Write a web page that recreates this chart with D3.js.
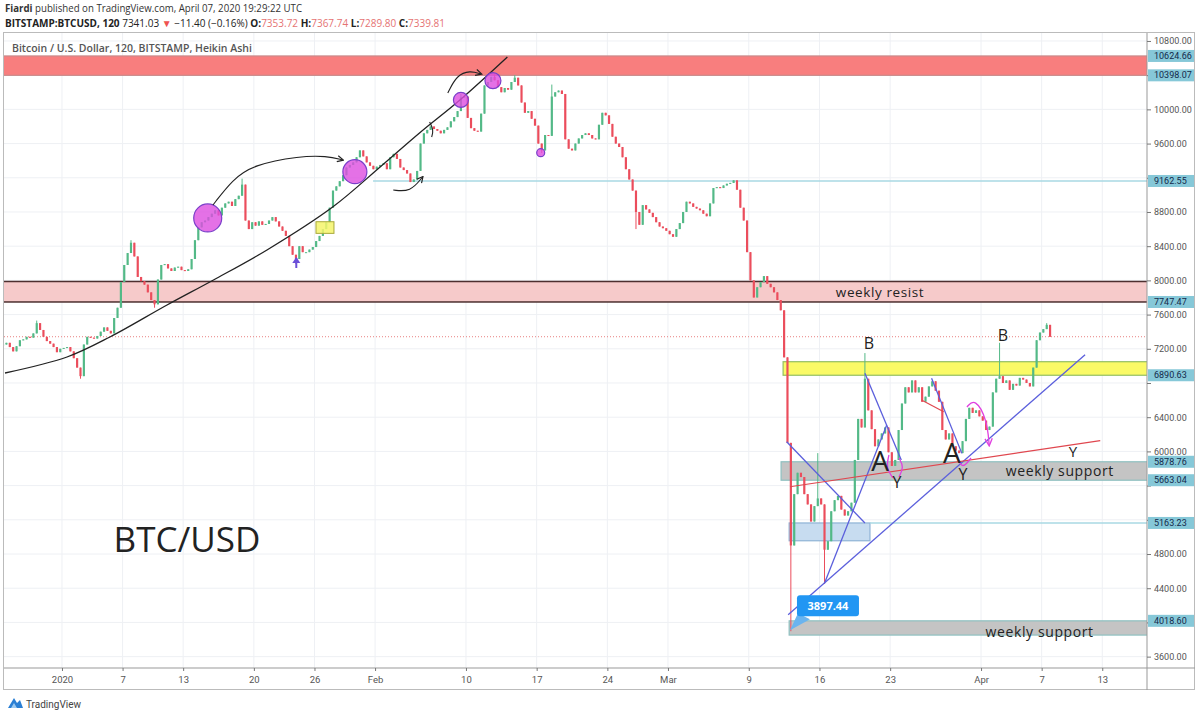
<!DOCTYPE html>
<html lang="en">
<head>
  <meta charset="UTF-8">
  <title>BTC/USD</title>
  <script src="https://cdn.jsdelivr.net/npm/d3@7"></script>
  <style>
    body { margin: 0; background: #fff; }
    svg { display: block; font-family: "Open Sans", Roboto, sans-serif; }
  </style>
</head>
<body>
<div id="chart"></div>
<script>
  // 8h closes, three per day, from 2019-12-26 00:00 UTC
  const closes = [
    7250, 7270, 7220,  7170, 7230, 7300,  7310, 7340, 7330,  7380, 7500, 7420,  // Dec 26-29
    7340, 7290, 7260,  7220, 7160, 7200,                                        // Dec 30-31
    7210, 7220, 7170,  7090, 6980, 6880,  7250, 7340, 7330,  7320, 7350, 7400,  // Jan 1-4
    7450, 7410, 7380,  7560, 7680, 7980,  8180, 8320, 8440,  8280, 8040, 7990,  // Jan 5-8
    7950, 7860, 7770,  7720, 8010, 8180,  8190, 8140, 8110,  8150, 8160, 8120,  // Jan 9-12
    8110, 8130, 8250,  8470, 8620, 8680,  8700, 8740, 8780,  8820, 8760, 8850,  // Jan 13-16
    8900, 8920, 8870,  8950, 8990, 9120,  8700, 8600, 8680,  8640, 8690, 8650,  // Jan 17-20
    8660, 8700, 8740,  8690, 8630, 8580,  8520, 8400, 8300,  8250, 8400, 8330,  // Jan 21-24
    8330, 8360, 8390,  8460, 8520, 8600,  8680, 8850, 9050,  9100, 9160, 9230,  // Jan 25-28
    9320, 9350, 9380,  9440, 9520, 9450,  9380, 9340, 9300,                     // Jan 29-31
    9330, 9350, 9370,  9300, 9440, 9480,  9420, 9320, 9290,  9250, 9150, 9180,  // Feb 1-4
    9280, 9600, 9720,  9760, 9800, 9770,  9750, 9720, 9760,  9790, 9860, 9910,  // Feb 5-8
    9980, 10140, 10150, 9900, 9780, 9750, 9740, 9950, 10280, 10320, 10380, 10340, // Feb 9-12
    10260, 10200, 10250, 10230, 10320, 10370, 10280, 10080, 9960, 9980, 9890, 9810, // Feb 13-16
    9600, 9520, 9700,  9690, 10150, 10200, 10220, 10180, 9650, 9540, 9520, 9600, // Feb 17-20
    9660, 9700, 9720,  9700, 9660, 9650,  9820, 9960, 9930,  9830, 9680, 9600,  // Feb 21-24
    9560, 9440, 9300,  9180, 9050, 8800,  8650, 8880, 8830,  8790, 8740, 8680,  // Feb 25-28
    8630, 8610, 8580,                                                            // Feb 29
    8540, 8510, 8600,  8670, 8800, 8920,  8900, 8860, 8840,  8820, 8780, 8750,  // Mar 1-4
    8900, 9080, 9090,  9080, 9110, 9130,  9140, 9170, 9060,  8850, 8700, 8330,  // Mar 5-8
    8000, 7800, 7920,  7980, 8050, 7960,  7920, 7860, 7770,  7650, 7100, 6100,  // Mar 9-12
    4900, 5500, 5750,  5700, 5500, 5380,  5180, 5360, 5450,  5380, 4850, 4950,  // Mar 13-16
    5300, 5430, 5480,  5320, 5250, 5300,  5400, 5900, 6380,  6280, 6850, 6480,  // Mar 17-20
    6260, 6060, 6140,  6210, 6280, 5990,  5830, 5900, 6250,  6560, 6750, 6690,  // Mar 21-24
    6830, 6690, 6750,  6580, 6640, 6760,  6820, 6710, 6580,  6250, 6140, 6210,  // Mar 25-28
    6060, 6010, 5980,  6120, 6380, 6510,  6450, 6480, 6410,                     // Mar 29-31
    6360, 6250, 6290,  6690, 6850, 6880,  6800, 6830, 6720,  6790, 6770, 6860,  // Apr 1-4
    6840, 6800, 6760,  6980, 7300, 7390,  7430, 7480, 7340                      // Apr 5-7
  ];
  // wick extremes: [day from Jan 1, price]
  const wicks = [
    [-2.5, 7530], [1.8, 6850], [6.8, 8470], [9.0, 7680], [17.9, 9190], [23.3, 8190],
    [39.5, 10180], [42.7, 10410], [44.7, 10400], [47.4, 9490], [48.6, 10290],
    [56.9, 8600], [72.2, 3897.44], [74.9, 5980], [75.6, 4450], [79.5, 7150],
    [92.8, 7270], [97.5, 7500]
  ];

  const priceTicks = [3600, 4000, 4400, 4800, 5200, 5600, 6000, 6400, 6800, 7200, 7600,
    8000, 8400, 8800, 9200, 9600, 10000, 10400, 10800];
  const dateTicks = ["2020-01-01", "2020-01-07", "2020-01-13", "2020-01-20", "2020-01-26",
    "2020-02-01", "2020-02-10", "2020-02-17", "2020-02-24", "2020-03-01", "2020-03-09",
    "2020-03-16", "2020-03-23", "2020-04-01", "2020-04-07", "2020-04-13"];
  const dateLabels = ["2020", "7", "13", "20", "26", "Feb", "10", "17", "24", "Mar", "9",
    "16", "23", "Apr", "7", "13"];

  // marked price levels on the right scale
  const levelMarks = [10624.66, 10398.07, 9162.55, 7747.47, 6890.63, 5878.76, 5663.04, 5163.23, 4018.60];
  const lastPrice = 7341.03;

  // zones: low, high, start day, end day
  const zoneLow = [10398.07, 7747.47, 6890.63, 5663.04, 3852, 4955];
  const zoneHigh = [10624.66, 7987, 7049, 5878.76, 4018.60, 5163.23];
  const zoneStart = [-6, -6, 71.4, 71.2, 72.0, 72.0];
  const zoneEnd = [108, 108, 108, 108, 108, 80.0];

  const levelLines = [9162.55, 5163.23];
  const levelStart = [30.8, 80.0];

  // curved trend line
  const arcDays = [-5.64, 0.5, 4.75, 10.4, 15.0, 20.3, 26.8, 31.5, 35.4, 39.4, 44.1];
  const arcPrices = [6917, 7104, 7338, 7712, 8005, 8356, 8858, 9326, 9724, 10110, 10613];

  const circleDays = [14.43, 29.0, 39.5, 42.67, 47.4];
  const circlePrices = [8730, 9271, 10110, 10336, 9494];

  // hand drawn arrows: [day, price] points
  const arrowPaths = [
    [[14.95, 8882], [16.9, 9180], [18.9, 9350], [23.56, 9455], [26.2, 9455], [27.8, 9408]],
    [[38.2, 10192], [39.1, 10402], [40.4, 10453], [41.5, 10414]],
    [[32.8, 9057], [34.5, 9034], [35.7, 9209]]
  ];
  const bracketPath = [[36.4, 9853], [36.8, 9759], [36.6, 9677]];
  const upArrow = [23.2, 8145, 8262];
  const smallBox = [25.15, 8550, 26.93, 8686];

  // straight lines: [day1, price1, day2, price2]
  const blueLines = [
    [71.75, 6113, 79.5, 5163],
    [71.9, 4090, 101.3, 7131],
    [75.5, 4458, 81.65, 6307],
    [79.5, 6913, 83.1, 5899],
    [86.1, 6855, 89.1, 5977]
  ];
  const redLines = [
    [72.08, 5587, 102.8, 6125],
    [85.1, 6601, 87.3, 6464]
  ];
  const pinkPaths = [
    [[89.6, 6519], [90.4, 6625], [91.6, 6367], [91.8, 6075]],
    [[81.88, 5958], [81.58, 5806], [82.28, 5689]],
    [[82.87, 5923], [83.37, 5818], [82.87, 5701]],
    [[88.6, 5958], [89.1, 5783], [90.0, 5923]]
  ];

  const notes = ["weekly resist", "weekly support", "weekly support", "B", "A", "Y", "A", "Y", "Y", "B", "BTC/USD"];
  const noteDays = [81.0, 98.8, 96.8, 79.9, 81.0, 82.67, 88.1, 89.2, 100.1, 93.17, 12.38];
  const notePrices = [7864, 5771, 3899, 7268, 5900, 5642, 5993, 5736, 6010, 7362, 4987];

  const lowMark = [72.08, 3897.44];

  // ---------------------------------------------------------------
  const DAY = 864e5;
  const jan1 = Date.UTC(2020, 0, 1);
  const t = d => new Date(jan1 + d * DAY);

  const plot = { l: 4, t: 33, r: 1147, b: 668 };
  const x = d3.scaleUtc().domain([t(-5.74), t(107.43)]).range([plot.l, plot.r]);
  const y = d3.scaleLinear().domain([3467, 10858]).range([plot.b, 36]);
  const px = p => [x(t(p[0])), y(p[1])];

  const svg = d3.select("#chart").append("svg").attr("width", 1200).attr("height", 718);

  const defs = svg.append("defs");
  defs.append("clipPath").attr("id", "clip").append("rect")
    .attr("x", plot.l).attr("y", plot.t).attr("width", plot.r - plot.l).attr("height", plot.b - plot.t);
  function marker(id, color) {
    defs.append("marker").attr("id", id).attr("viewBox", "0 0 10 10")
      .attr("refX", 8).attr("refY", 5).attr("markerWidth", 7).attr("markerHeight", 7)
      .attr("orient", "auto-start-reverse")
      .append("path").attr("d", "M1,1 L9,5 L1,9").attr("fill", "none").attr("stroke", color).attr("stroke-width", 1.5);
  }
  marker("arrBlack", "#222");
  marker("arrPink", "#e040e0");

  // header
  const head1 = svg.append("text").attr("x", 5).attr("y", 12).attr("font-size", 10).attr("fill", "#333")
    .attr("textLength", 297).attr("lengthAdjust", "spacingAndGlyphs");
  head1.append("tspan").attr("font-weight", "bold").text("Fiardi");
  head1.append("tspan").text(" published on TradingView.com, April 07, 2020 19:29:22 UTC");

  const head2 = svg.append("text").attr("x", 5).attr("y", 27).attr("font-size", 10).attr("fill", "#222")
    .attr("textLength", 440).attr("lengthAdjust", "spacingAndGlyphs");
  head2.append("tspan").attr("font-weight", "bold").text("BITSTAMP:BTCUSD, 120");
  head2.append("tspan").text(" 7341.03 ");
  head2.append("tspan").attr("fill", "#ef5350").text("▼");
  head2.append("tspan").text(" −11.40 (−0.16%) ");
  [["O:", "7353.72"], [" H:", "7367.74"], [" L:", "7289.80"], [" C:", "7339.81"]].forEach(([k, v]) => {
    head2.append("tspan").attr("font-weight", "bold").text(k);
    head2.append("tspan").attr("fill", "#e57373").text(v);
  });

  // frame
  svg.append("rect").attr("x", 3.5).attr("y", 32.5).attr("width", 1191).attr("height", 657)
    .attr("fill", "#fff").attr("stroke", "#bbb");

  // grid
  const grid = svg.append("g").attr("stroke", "#eef0f4").attr("stroke-width", 1);
  grid.selectAll(".v").data(dateTicks).join("line")
    .attr("x1", d => x(new Date(d))).attr("x2", d => x(new Date(d)))
    .attr("y1", plot.t).attr("y2", plot.b);
  grid.selectAll(".h").data(priceTicks).join("line")
    .attr("x1", plot.l).attr("x2", plot.r)
    .attr("y1", d => y(d)).attr("y2", d => y(d));

  svg.append("text").attr("x", 12).attr("y", 52).attr("font-size", 10.5).attr("fill", "#555")
    .attr("font-weight", 600).text("Bitcoin / U.S. Dollar, 120, BITSTAMP, Heikin Ashi");

  const g = svg.append("g").attr("clip-path", "url(#clip)");

  // zones
  const zoneFill = ["#f87e7e", "#f6caca", "#fafa66", "#c4c4c4", "#c4c4c4", "#c7dcf0"];
  const zoneStroke = ["#c98a8a", "#4d2f2f", "#93bf63", "#8ec0c0", "#8ec0c0", "#8fb3d6"];
  g.selectAll(".zone").data(zoneLow).join("rect")
    .attr("x", (d, i) => x(t(zoneStart[i])))
    .attr("width", (d, i) => x(t(zoneEnd[i])) - x(t(zoneStart[i])))
    .attr("y", (d, i) => y(zoneHigh[i]))
    .attr("height", (d, i) => y(d) - y(zoneHigh[i]))
    .attr("fill", (d, i) => zoneFill[i])
    .attr("stroke", (d, i) => zoneStroke[i]).attr("stroke-width", (d, i) => i === 1 ? 1.5 : 1.2);

  g.selectAll(".lvl").data(levelLines).join("line")
    .attr("x1", (d, i) => x(t(levelStart[i]))).attr("x2", plot.r)
    .attr("y1", d => y(d)).attr("y2", d => y(d))
    .attr("stroke", "#a9d9e3").attr("stroke-width", 1.5);

  g.append("line").attr("x1", plot.l).attr("x2", plot.r)
    .attr("y1", y(lastPrice)).attr("y2", y(lastPrice))
    .attr("stroke", "#e88080").attr("stroke-width", 1).attr("stroke-dasharray", "1,2");

  // candles
  const start = Date.UTC(2019, 11, 26);
  const step = 8 * 3600e3;
  const candles = closes.map((c, i) => {
    const o = i ? closes[i - 1] : c;
    return { t0: new Date(start + i * step), t1: new Date(start + (i + 1) * step), o, c,
      hi: Math.max(o, c), lo: Math.min(o, c) };
  });
  wicks.forEach(([d, p]) => {
    const k = candles[Math.floor((d + 6) * 3)];
    if (k) { k.hi = Math.max(k.hi, p); k.lo = Math.min(k.lo, p); }
  });
  const col = d => d.c >= d.o ? "#53b987" : "#eb4d5c";
  const cg = g.append("g");
  cg.selectAll(".wick").data(candles).join("line")
    .attr("x1", d => (x(d.t0) + x(d.t1)) / 2).attr("x2", d => (x(d.t0) + x(d.t1)) / 2)
    .attr("y1", d => y(d.hi)).attr("y2", d => y(d.lo))
    .attr("stroke", col).attr("stroke-width", 1);
  cg.selectAll(".body").data(candles).join("rect")
    .attr("x", d => x(d.t0) + 0.6).attr("width", d => x(d.t1) - x(d.t0) - 1.2)
    .attr("y", d => y(Math.max(d.o, d.c)))
    .attr("height", d => Math.max(1, Math.abs(y(d.o) - y(d.c))))
    .attr("fill", col);

  // curved trend line
  const arcPts = arcDays.map((d, i) => [d, arcPrices[i]]);
  const curve = d3.line().x(p => px(p)[0]).y(p => px(p)[1]).curve(d3.curveCatmullRom);
  g.append("path").attr("d", curve(arcPts)).attr("fill", "none").attr("stroke", "#222").attr("stroke-width", 1.3);

  // circles
  const circleR = [14, 12, 7.5, 8, 4];
  g.selectAll(".mark").data(circleDays).join("circle")
    .attr("cx", (d, i) => x(t(d))).attr("cy", (d, i) => y(circlePrices[i]))
    .attr("r", (d, i) => circleR[i])
    .attr("fill", "#dd4ee0").attr("fill-opacity", 0.8)
    .attr("stroke", "#7a3fc9").attr("stroke-width", 1.2);

  // arrows
  arrowPaths.forEach(pts => {
    g.append("path").attr("d", curve.curve(d3.curveBasis)(pts))
      .attr("fill", "none").attr("stroke", "#222").attr("stroke-width", 1.1)
      .attr("marker-end", "url(#arrBlack)");
  });
  g.append("path").attr("d", curve.curve(d3.curveBasis)(bracketPath))
    .attr("fill", "none").attr("stroke", "#222").attr("stroke-width", 1.1);
  g.append("line").attr("x1", x(t(upArrow[0]))).attr("x2", x(t(upArrow[0])))
    .attr("y1", y(upArrow[1])).attr("y2", y(upArrow[2]))
    .attr("stroke", "#6a4fd8").attr("stroke-width", 2);
  g.append("path")
    .attr("d", `M${x(t(upArrow[0])) - 4},${y(upArrow[2]) + 5} L${x(t(upArrow[0]))},${y(upArrow[2]) - 1} L${x(t(upArrow[0])) + 4},${y(upArrow[2]) + 5} Z`)
    .attr("fill", "#6a4fd8");
  g.append("rect")
    .attr("x", x(t(smallBox[0]))).attr("y", y(smallBox[3]))
    .attr("width", x(t(smallBox[2])) - x(t(smallBox[0])))
    .attr("height", y(smallBox[1]) - y(smallBox[3]))
    .attr("fill", "#f4f46a").attr("fill-opacity", 0.85).attr("stroke", "#a8a83a");

  // straight lines
  g.selectAll(".blue").data(blueLines).join("line")
    .attr("x1", d => x(t(d[0]))).attr("y1", d => y(d[1]))
    .attr("x2", d => x(t(d[2]))).attr("y2", d => y(d[3]))
    .attr("stroke", "#5b5fdc").attr("stroke-width", 1.3);
  g.selectAll(".red").data(redLines).join("line")
    .attr("x1", d => x(t(d[0]))).attr("y1", d => y(d[1]))
    .attr("x2", d => x(t(d[2]))).attr("y2", d => y(d[3]))
    .attr("stroke", "#e0474f").attr("stroke-width", 1.2);
  pinkPaths.forEach((pts, i) => {
    g.append("path").attr("d", curve.curve(d3.curveBasis)(pts))
      .attr("fill", "none").attr("stroke", "#e040e0").attr("stroke-width", 1.3)
      .attr("marker-end", i === 0 ? "url(#arrPink)" : null);
  });

  // notes
  const noteSize = [13.5, 14, 14, 16, 28, 16, 28, 16, 15, 16, 35];
  g.selectAll(".note").data(notes).join("text")
    .attr("x", (d, i) => x(t(noteDays[i]))).attr("y", (d, i) => y(notePrices[i]))
    .attr("text-anchor", "middle").attr("dominant-baseline", "central")
    .attr("font-size", (d, i) => noteSize[i])
    .attr("fill", "#222").attr("letter-spacing", (d, i) => i < 3 ? 0.6 : 0)
    .text(d => d);

  // low price callout
  const [lx, ly] = px(lowMark);
  g.append("path").attr("d", `M${lx},${ly - 1} L${lx + 8},${ly - 18} L${lx + 20},${ly - 12} Z`).attr("fill", "#6ab4ef");
  g.append("rect").attr("x", lx + 7).attr("y", ly - 36).attr("width", 62).attr("height", 21).attr("rx", 3)
    .attr("fill", "#2196f3");
  g.append("text").attr("x", lx + 38).attr("y", ly - 25.5).attr("text-anchor", "middle")
    .attr("dominant-baseline", "central").attr("font-size", 11).attr("font-weight", "bold")
    .attr("fill", "#fff").text("3897.44");

  // axes
  svg.append("line").attr("x1", plot.r).attr("x2", plot.r).attr("y1", plot.t).attr("y2", 690).attr("stroke", "#999");
  svg.append("line").attr("x1", plot.l).attr("x2", 1195).attr("y1", plot.b).attr("y2", plot.b).attr("stroke", "#999");

  // tick labels hidden where a marked level label covers them
  const covered = v => levelMarks.some(m => Math.abs(y(m) - y(v)) < 10);
  const yAxis = d3.axisRight(y).tickValues(priceTicks).tickSize(4)
    .tickFormat(v => covered(v) ? "" : d3.format(".2f")(v));
  svg.append("g").attr("transform", `translate(${plot.r},0)`).call(yAxis)
    .call(a => {
      a.select(".domain").remove();
      a.selectAll("line").attr("stroke", "#777");
      a.selectAll("text").attr("fill", "#555").attr("font-size", 9).attr("x", 7)
        .attr("font-family", "Roboto, sans-serif");
    });

  const marks = svg.append("g");
  marks.selectAll("rect").data(levelMarks).join("rect")
    .attr("x", plot.r + 1).attr("y", d => y(d) - 6).attr("width", 46).attr("height", 12)
    .attr("fill", "#86c8d8");
  marks.selectAll("text").data(levelMarks).join("text")
    .attr("x", plot.r + 7).attr("y", d => y(d)).attr("dominant-baseline", "central")
    .attr("font-size", 9).attr("font-family", "Roboto, sans-serif").attr("fill", "#13294b")
    .text(d3.format(".2f"));

  const xAxis = d3.axisBottom(x).tickValues(dateTicks.map(d => new Date(d))).tickSize(3)
    .tickFormat((d, i) => dateLabels[i]);
  svg.append("g").attr("transform", `translate(0,${plot.b})`).call(xAxis)
    .call(a => {
      a.select(".domain").remove();
      a.selectAll("line").attr("stroke", "#777");
      a.selectAll("text").attr("fill", "#555").attr("font-size", 9.5).attr("dy", "0.9em")
        .attr("font-family", "Roboto, sans-serif");
    });

  // TradingView logo
  const logo = svg.append("g").attr("transform", "translate(8,697)");
  logo.append("path").attr("d", "M0,11 L6,1 L9,6 L12,3 L15,11 Z").attr("fill", "#2a7fd4");
  logo.append("path").attr("d", "M3,11 L6,6 L9,11 Z").attr("fill", "#9ccaf2");
  svg.append("text").attr("x", 26).attr("y", 708).attr("font-size", 10).attr("fill", "#444")
    .attr("font-family", "Roboto, sans-serif").text("TradingView");
</script>
</body>
</html>
